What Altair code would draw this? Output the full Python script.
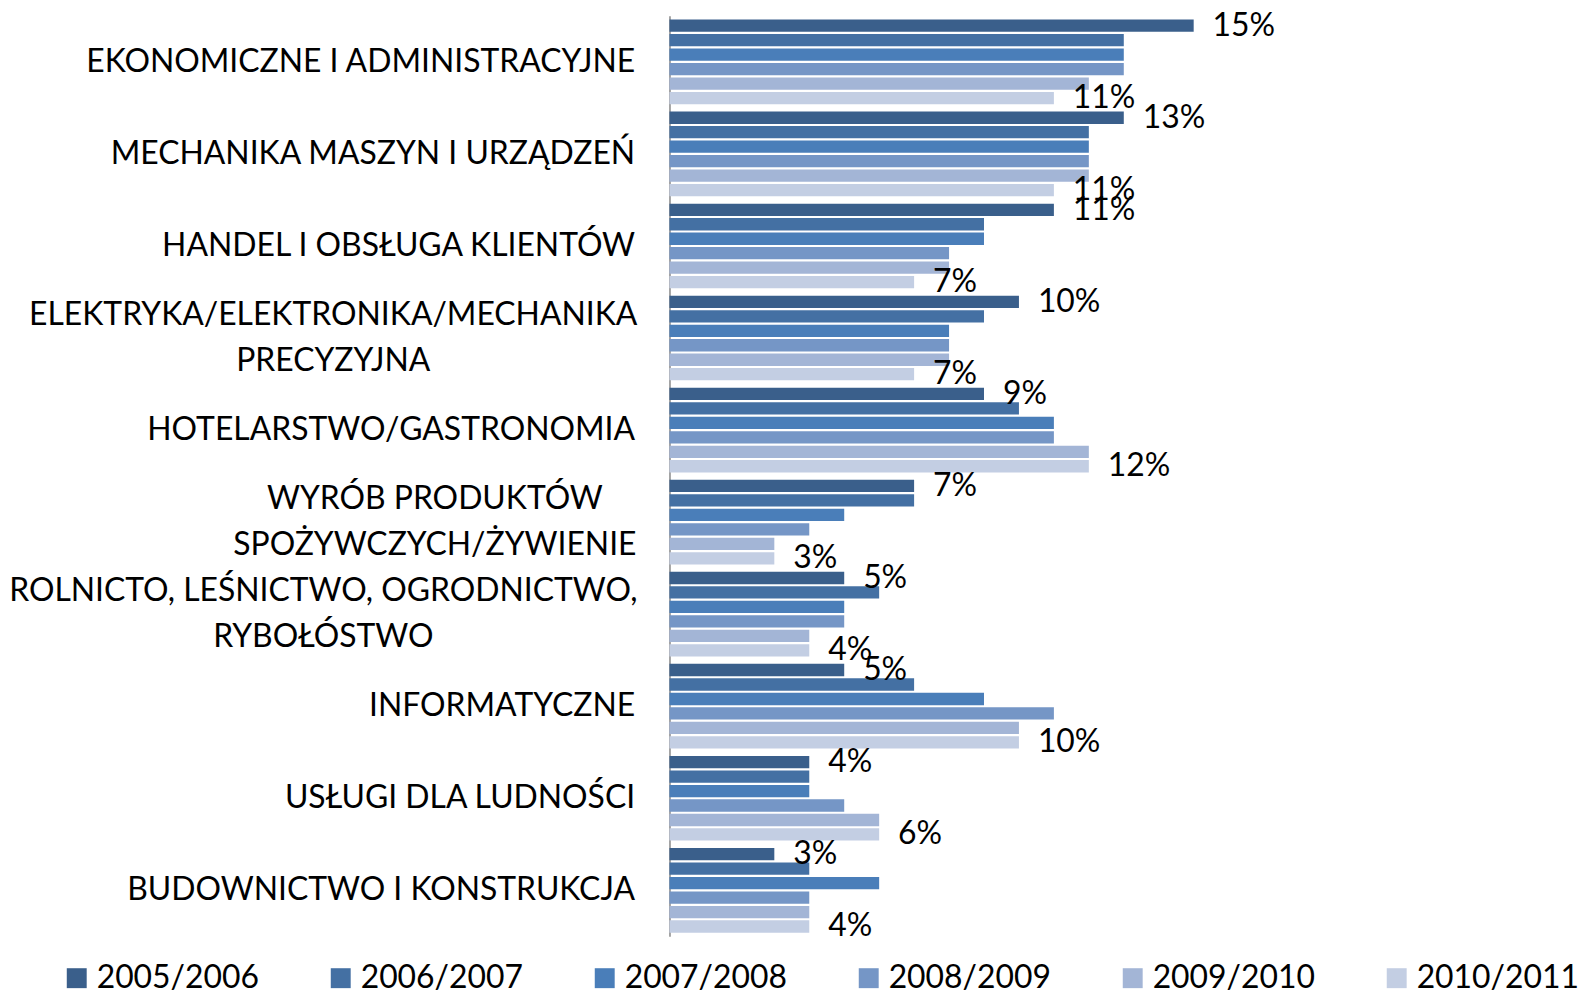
import altair as alt
import pandas as pd

categories = [
    "EKONOMICZNE I ADMINISTRACYJNE",
    "MECHANIKA MASZYN I URZĄDZEŃ",
    "HANDEL I OBSŁUGA KLIENTÓW",
    "ELEKTRYKA/ELEKTRONIKA/MECHANIKA\nPRECYZYJNA",
    "HOTELARSTWO/GASTRONOMIA",
    "WYRÓB PRODUKTÓW \nSPOŻYWCZYCH/ŻYWIENIE",
    "ROLNICTO, LEŚNICTWO, OGRODNICTWO,\nRYBOŁÓSTWO",
    "INFORMATYCZNE",
    "USŁUGI DLA LUDNOŚCI",
    "BUDOWNICTWO I KONSTRUKCJA",
]
series = ["2005/2006", "2006/2007", "2007/2008", "2008/2009", "2009/2010", "2010/2011"]
v2005 = [15, 13, 11, 10, 9, 7, 5, 5, 4, 3]
v2006 = [13, 12, 9, 9, 10, 7, 6, 7, 4, 4]
v2007 = [13, 12, 9, 8, 11, 5, 5, 9, 4, 6]
v2008 = [13, 12, 8, 8, 11, 4, 5, 11, 5, 4]
v2009 = [12, 12, 8, 8, 12, 3, 4, 10, 6, 4]
v2010 = [11, 11, 7, 7, 12, 3, 4, 10, 6, 4]
colors = ["#3A5F8B", "#4470A3", "#4A7EB9", "#7596C6", "#A3B5D6", "#C3CEE3"]
labelled = ["2005/2006", "2010/2011"]

rows = []
for s, vals in zip(series, [v2005, v2006, v2007, v2008, v2009, v2010]):
    for c, v in zip(categories, vals):
        rows.append({"category": c, "series": s, "value": v,
                     "label": f"{v}%" if s in labelled else ""})
df = pd.DataFrame(rows)

FONT = "Lato"
FS = 32

multi = "indexof(datum.value, '\\n') >= 0"
label_align = {"condition": {"test": multi, "value": "center"}, "value": "right"}
label_padding = {
    "condition": [
        {"test": "indexof(datum.value, 'ELEKTRYKA') >= 0", "value": 338},
        {"test": "indexof(datum.value, 'WYRÓB') >= 0", "value": 236},
        {"test": "indexof(datum.value, 'ROLNICTO') >= 0", "value": 348},
    ],
    "value": 35,
}
label_offset = {"condition": {"test": multi, "value": -23}, "value": 0}

base = alt.Chart(df).encode(
    y=alt.Y("category:N", sort=categories, title=None,
            scale=alt.Scale(paddingInner=0.08, paddingOuter=0.04),
            axis=alt.Axis(ticks=False, tickSize=0, labelPadding=label_padding,
                          labelAlign=label_align, labelOffset=label_offset,
                          labelFont=FONT, labelFontSize=FS, labelColor="#000000",
                          labelLineHeight=46, labelLimit=1000,
                          labelExpr="split(datum.label, '\\n')",
                          domainColor="#888888", domainWidth=1.5)),
    yOffset=alt.YOffset("series:N", sort=series, scale=alt.Scale(paddingInner=0.15)),
    x=alt.X("value:Q", scale=alt.Scale(domain=[0, 25]), axis=None),
)

bars = base.mark_bar().encode(
    color=alt.Color("series:N", sort=series,
                    scale=alt.Scale(domain=series, range=colors),
                    legend=alt.Legend(title=None, orient="none", legendX=-611, legendY=950,
                                      direction="horizontal", columns=6,
                                      symbolType="square", symbolSize=400,
                                      symbolStrokeWidth=0, labelFont=FONT,
                                      labelFontSize=FS, labelColor="#000000",
                                      labelOffset=4, columnPadding=66,
                                      labelLimit=1000))
)

text = base.transform_filter(alt.datum.label != "").mark_text(
    align="left", baseline="middle", dx=19, font=FONT, fontSize=FS, color="#000000"
).encode(text="label:N")

chart = alt.layer(bars, text).properties(
    width=877, height=924,
    autosize=alt.AutoSizeParams(type="none"),
    padding={"left": 664, "top": 6, "right": 40, "bottom": 55},
).configure_view(stroke=None)

chart.save("out.html", embed_options={"renderer": "svg", "actions": False})
